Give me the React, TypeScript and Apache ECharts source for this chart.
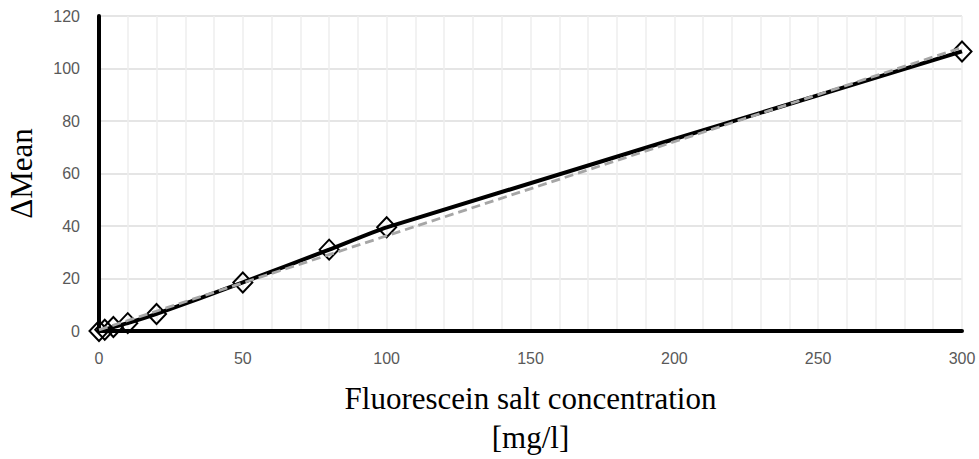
import React, { useEffect, useRef } from "react";
import * as echarts from "echarts";

const concentrations = [0, 2, 5, 10, 20, 50, 80, 100, 300];
const deltaMean = [0, 0.5, 1.5, 3, 6.5, 18.5, 31, 39.5, 106.5];
const xTicks = [0, 50, 100, 150, 200, 250, 300];
const yTicks = [0, 20, 40, 60, 80, 100, 120];

function linearFit(xs: number[], ys: number[]) {
  const n = xs.length;
  const mx = xs.reduce((a, b) => a + b, 0) / n;
  const my = ys.reduce((a, b) => a + b, 0) / n;
  let sxx = 0, sxy = 0;
  for (let i = 0; i < n; i++) {
    sxx += (xs[i] - mx) ** 2;
    sxy += (xs[i] - mx) * (ys[i] - my);
  }
  const slope = sxy / sxx;
  return { slope, intercept: my - slope * mx };
}

export default function App() {
  const ref = useRef<HTMLDivElement>(null);
  useEffect(() => {
    if (!ref.current) return;
    const chart = echarts.init(ref.current, undefined, { renderer: "svg" });
    const fit = linearFit(concentrations, deltaMean);
    const xMin = xTicks[0];
    const xMax = xTicks[xTicks.length - 1];
    const trend = [
      [xMin, fit.intercept + fit.slope * xMin],
      [xMax, fit.intercept + fit.slope * xMax],
    ];
    chart.setOption({
      animation: false,
      backgroundColor: "#ffffff",
      grid: {
        left: 99,
        top: 16,
        right: 17,
        bottom: 128,
        containLabel: false,
        outerBoundsMode: "none",
      },
      xAxis: {
        type: "value",
        min: xMin,
        max: xMax,
        interval: 50,
        axisLine: { show: true, onZero: false, lineStyle: { color: "#000", width: 4 } },
        axisTick: { show: false },
        axisLabel: {
          margin: 19,
          fontFamily: "Liberation Sans",
          fontSize: 16,
          color: "#595959",
        },
        splitLine: { show: true, lineStyle: { color: "#eeeeee", width: 1.5 } },
        minorTick: { show: false, splitNumber: 5 },
        minorSplitLine: { show: true, lineStyle: { color: "#eeeeee", width: 1.5 } },
        name: "Fluorescein salt concentration\n[mg/l]",
        nameLocation: "middle",
        nameGap: 48,
        nameTextStyle: {
          fontFamily: "Liberation Serif",
          fontSize: 31,
          color: "#000",
          lineHeight: 39,
          verticalAlign: "top",
        },
      },
      yAxis: {
        type: "value",
        min: yTicks[0],
        max: yTicks[yTicks.length - 1],
        interval: 20,
        axisLine: { show: true, lineStyle: { color: "#000", width: 4 } },
        axisTick: { show: false },
        axisLabel: {
          margin: 19,
          fontFamily: "Liberation Sans",
          fontSize: 16,
          color: "#595959",
        },
        splitLine: { show: true, lineStyle: { color: "#dddddd", width: 1.5 } },
        name: "\u0394Mean",
        nameLocation: "middle",
        nameGap: 62,
        nameRotate: 90,
        nameTextStyle: {
          fontFamily: "Liberation Serif",
          fontSize: 31,
          color: "#000",
        },
      },
      series: [
        {
          type: "line",
          data: concentrations.map((x, i) => [x, deltaMean[i]]),
          smooth: 0.2,
          symbol: "diamond",
          symbolSize: [19, 20],
          showAllSymbol: true,
          lineStyle: { color: "#000", width: 4 },
          itemStyle: { color: "rgba(255,255,255,0)", borderColor: "#000", borderWidth: 2 },
          z: 2,
        },
        {
          type: "line",
          data: trend,
          symbol: "none",
          lineStyle: { color: "#a6a6a6", width: 2.8, type: [9, 5] },
          z: 3,
        },
      ],
    });
    return () => chart.dispose();
  }, []);
  return <div ref={ref} style={{ width: 979, height: 459, position: "absolute", left: 0, top: 0 }} />;
}
